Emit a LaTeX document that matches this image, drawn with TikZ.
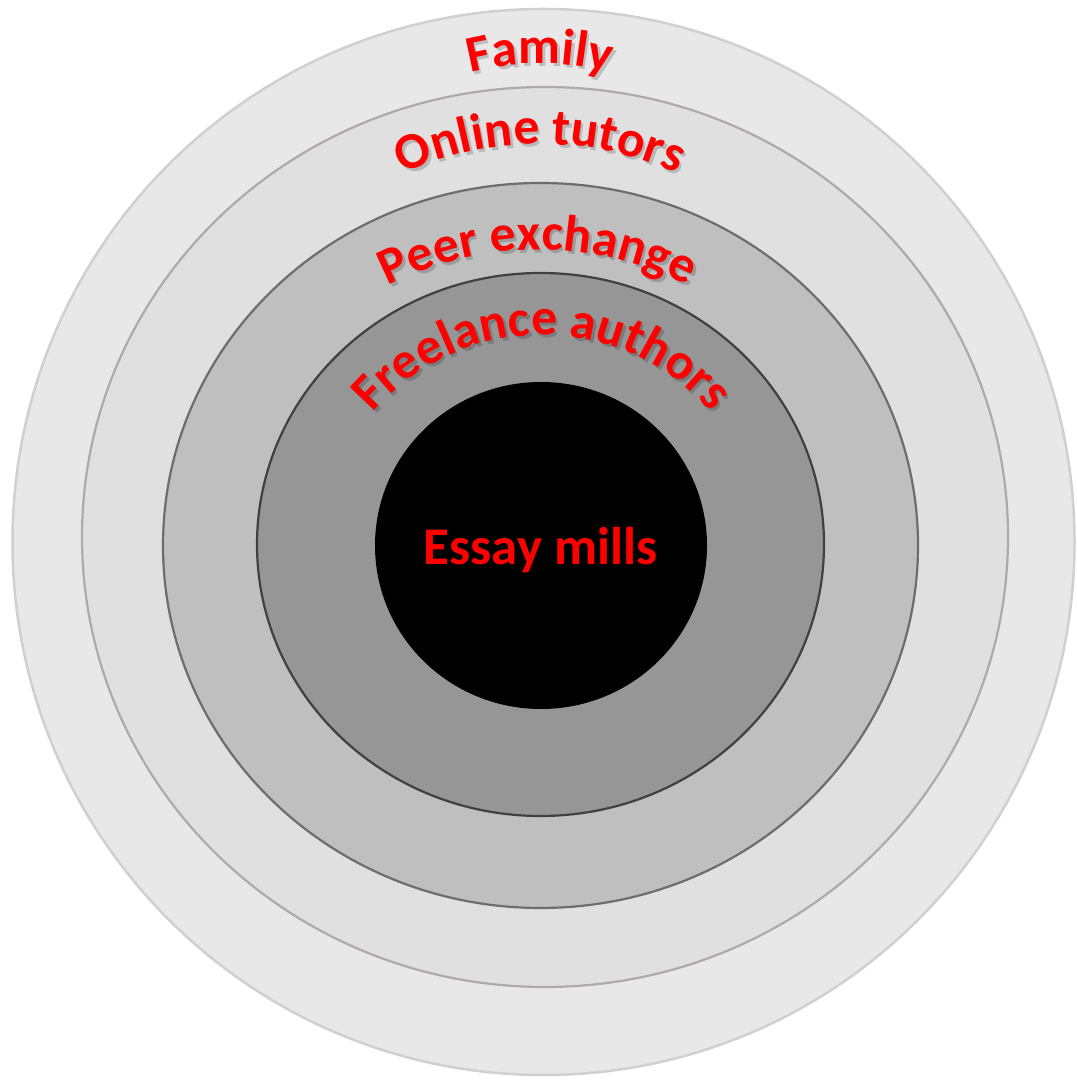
\documentclass[tikz,border=0pt]{standalone}
\usepackage{fontspec}
\setmainfont{Carlito}
\usetikzlibrary{decorations.text}
\newcommand\arcfont{\fontsize{51.5}{62}\selectfont\bfseries}
\newcommand\millsfont{\fontsize{53}{64}\selectfont\bfseries}
\definecolor{ringAfill}{HTML}{E8E8E8}
\definecolor{ringAline}{HTML}{D0D0D0}
\definecolor{ringBfill}{HTML}{E0E0E0}
\definecolor{ringBline}{HTML}{AEAAAC}
\definecolor{ringCfill}{HTML}{BFBFBF}
\definecolor{ringCline}{HTML}{6E6C6C}
\definecolor{ringDfill}{HTML}{969696}
\definecolor{ringDline}{HTML}{404040}
\definecolor{labelred}{HTML}{FF0000}
\tikzset{
  ringA/.style={fill=ringAfill, draw=ringAline, line width=2.5pt},
  ringB/.style={fill=ringBfill, draw=ringBline, line width=2.2pt},
  ringC/.style={fill=ringCfill, draw=ringCline, line width=2.2pt},
  ringD/.style={fill=ringDfill, draw=ringDline, line width=2.2pt},
  core/.style={fill=black, draw=none},
}
% #1 cx, #2 cy, #3 radius, #4 text
\newcommand\arclabel[4]{%
  \begin{scope}[opacity=0.18, shift={(2.5,-3)}]
    \path[decorate, decoration={text along path, text={|\arcfont|#4}, text align=center, text color=black}]
      ([shift={(150:#3)}]#1,#2) arc[start angle=150, end angle=30, radius=#3];
  \end{scope}
  \path[decorate, decoration={text along path, text={|\arcfont|#4}, text align=center, text color=labelred}]
    ([shift={(150:#3)}]#1,#2) arc[start angle=150, end angle=30, radius=#3];
}
\begin{document}
\begin{tikzpicture}[x=1pt,y=1pt]
\useasboundingbox (0,0) rectangle (1076,1081);
\fill[white] (0,0) rectangle (1076,1081);
\draw[ringA] (543.5,539) ellipse [x radius=531, y radius=533];
\draw[ringB] (545,544) ellipse [x radius=463, y radius=450];
\draw[ringC] (540.5,535.5) ellipse [x radius=377.5, y radius=362.5];
\draw[ringD] (540.5,536.5) ellipse [x radius=283.5, y radius=271.5];
\fill[core] (541,535.5) ellipse [x radius=166, y radius=163.5];
\node[anchor=base, text=labelred, font=\millsfont, inner sep=0pt] (mills) at (540.5,516) {Essay mills};
\arclabel{540}{737}{280}{Family}
\arclabel{540}{611}{326}{Online tutors}
\arclabel{538}{501}{330}{Peer exchange}
\arclabel{542}{523}{223}{Freelance authors}
\end{tikzpicture}
\end{document}
